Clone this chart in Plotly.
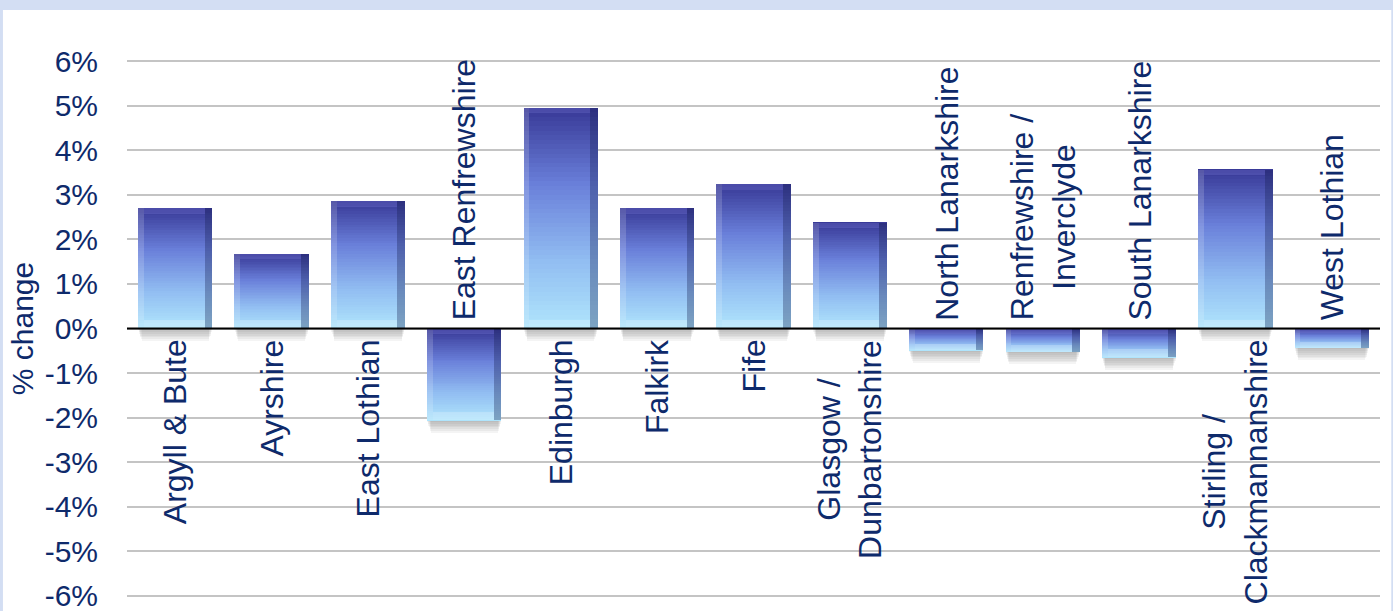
import plotly.graph_objects as go

# Regional change, percent
regions = [
    "Argyll & Bute", "Ayrshire", "East Lothian", "East Renfrewshire",
    "Edinburgh", "Falkirk", "Fife", "Glasgow / Dunbartonshire",
    "North Lanarkshire", "Renfrewshire / Inverclyde", "South Lanarkshire",
    "Stirling / Clackmannanshire", "West Lothian",
]
region_labels = [
    "Argyll & Bute", "Ayrshire", "East Lothian", "East Renfrewshire",
    "Edinburgh", "Falkirk", "Fife", "Glasgow /<br>Dunbartonshire",
    "North Lanarkshire", "Renfrewshire /<br>Inverclyde", "South Lanarkshire",
    "Stirling /<br>Clackmannanshire", "West Lothian",
]
pct_change = [2.71, 1.68, 2.87, -2.06, 4.96, 2.71, 3.25, 2.38,
              -0.49, -0.52, -0.65, 3.57, -0.43]
tick_vals = [-6, -5, -4, -3, -2, -1, 0, 1, 2, 3, 4, 5, 6]
tick_text = [f"{v}%" for v in tick_vals]

NAVY = "#0e2a6b"
FONT = "Liberation Sans, Arial, sans-serif"
BAR_W = 0.77
x_pos = list(range(len(regions)))

# colour stops for the vertical gradient (0 = bottom of bar, 1 = top)
STOPS = [(0.0, (176, 229, 252)), (0.3, (146, 190, 242)), (0.65, (106, 128, 218)),
         (1.0, (56, 56, 150))]


def grad(t):
    for (t0, c0), (t1, c1) in zip(STOPS[:-1], STOPS[1:]):
        if t <= t1:
            f = (t - t0) / (t1 - t0)
            return "rgb({},{},{})".format(*[round(a + (b - a) * f) for a, b in zip(c0, c1)])
    return "rgb({},{},{})".format(*STOPS[-1][1])


fig = go.Figure()

tops = [max(v, 0) for v in pct_change]
bottoms = [min(v, 0) for v in pct_change]
heights = [t - b for t, b in zip(tops, bottoms)]

# soft drop shadow under each bar
for j in range(7):
    drop = 0.04 * (j + 1)
    fig.add_trace(go.Bar(
        x=x_pos, base=[b - drop for b in bottoms], y=[h * 0.9 for h in heights],
        width=BAR_W - 0.012 * j, marker=dict(color="rgba(70,70,70,0.06)", line_width=0),
        hoverinfo="skip", showlegend=False,
    ))

# gradient body, built from thin stacked slices of each bar
N = 48
for k in range(N):
    bases, ys, cols = [], [], []
    for b, h in zip(bottoms, heights):
        bases.append(b + h * k / N)
        ys.append(h / N * 1.03)
        cols.append(grad((k + 0.5) / N))
    fig.add_trace(go.Bar(
        x=x_pos, base=bases, y=ys, width=BAR_W,
        marker=dict(color=cols, line_width=0),
        hoverinfo="skip", showlegend=False,
    ))

# bevel edges
right_w, left_w = 0.08, 0.06
fig.add_trace(go.Bar(
    x=x_pos, base=bottoms, y=heights, width=right_w, offset=BAR_W / 2 - right_w,
    marker=dict(color="rgba(20,30,80,0.33)", line_width=0), hoverinfo="skip", showlegend=False,
))
fig.add_trace(go.Bar(
    x=x_pos, base=bottoms, y=heights, width=left_w, offset=-BAR_W / 2,
    marker=dict(color="rgba(255,255,255,0.16)", line_width=0), hoverinfo="skip", showlegend=False,
))
edge_bottom = [min(0.18, h * 0.3) for h in heights]
edge_top = [min(0.13, h * 0.25) for h in heights]
fig.add_trace(go.Bar(
    x=x_pos, base=bottoms, y=edge_bottom, width=BAR_W - right_w - left_w,
    offset=-BAR_W / 2 + left_w,
    marker=dict(color="rgba(255,255,255,0.22)", line_width=0), hoverinfo="skip", showlegend=False,
))
fig.add_trace(go.Bar(
    x=x_pos, base=[t - e for t, e in zip(tops, edge_top)], y=edge_top,
    width=BAR_W - right_w - left_w, offset=-BAR_W / 2 + left_w,
    marker=dict(color="rgba(140,140,230,0.22)", line_width=0), hoverinfo="skip", showlegend=False,
))

# rotated category labels on the opposite side of the zero line
annotations = []
for xi, lab, v in zip(x_pos, region_labels, pct_change):
    above = v < 0
    annotations.append(dict(
        x=xi, y=0, xref="x", yref="y", text=lab, textangle=-90, showarrow=False,
        align="center", xanchor="center",
        yanchor="bottom" if above else "top", yshift=6 if above else -9,
        font=dict(family=FONT, size=32, color=NAVY),
    ))

fig.update_layout(
    width=1393, height=611,
    margin=dict(l=127, r=13, t=60, b=14),
    paper_bgcolor="#d3def3", plot_bgcolor="rgba(0,0,0,0)",
    barmode="overlay", bargap=0,
    showlegend=False,
    annotations=annotations,
    shapes=[
        # white panel
        dict(type="rect", xref="paper", yref="paper", x0=-0.099, x1=1.009, y0=-0.05, y1=1.093,
             fillcolor="white", line_width=0, layer="below"),
        # zero line
        dict(type="line", xref="paper", yref="y", x0=0, x1=1, y0=0, y1=0,
             line=dict(color="black", width=2), layer="above"),
    ],
    xaxis=dict(range=[-0.5, len(regions) - 0.5], showticklabels=False, showgrid=False,
               zeroline=False, showline=False, ticks="", automargin=False),
    yaxis=dict(
        range=[-6.03, 6.03], tickvals=tick_vals, ticktext=tick_text,
        tickfont=dict(family=FONT, size=30, color=NAVY),
        showgrid=True, gridcolor="#c4c4c4", gridwidth=2, zeroline=False,
        showline=False, ticks="", ticklabelstandoff=28, ticklabeloverflow="allow",
        automargin=False,
        title=dict(text="% change", font=dict(family=FONT, size=30, color=NAVY), standoff=2),
    ),
)

fig.write_html("out.html")
